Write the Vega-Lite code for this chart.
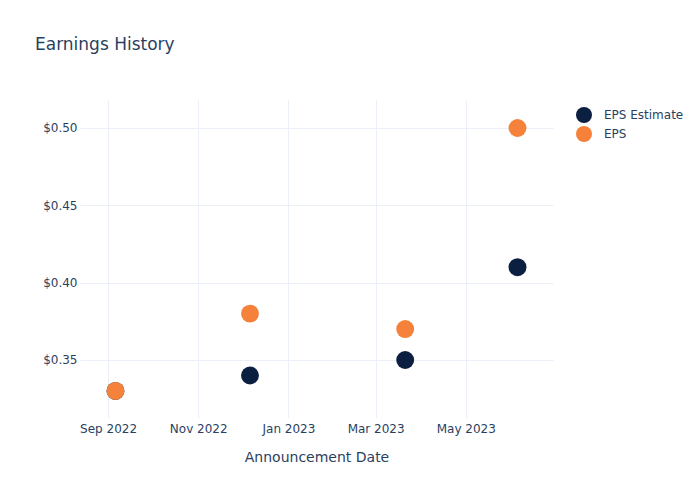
{
  "$schema": "https://vega.github.io/schema/vega-lite/v6.json",
  "width": 473,
  "height": 318,
  "autosize": "none",
  "padding": {"left": 80, "top": 100, "right": 147, "bottom": 82},
  "background": "white",
  "title": {"text": "Earnings History", "anchor": "start", "frame": "group", "dx": -45, "offset": 46, "fontSize": 17, "font": "DejaVu Sans", "fontWeight": "normal", "color": "#2a3f5f"},
  "data": {"values": [
    {"date": "2022-09-06", "series": "EPS Estimate", "value": 0.33},
    {"date": "2022-12-06", "series": "EPS Estimate", "value": 0.34},
    {"date": "2023-03-21", "series": "EPS Estimate", "value": 0.35},
    {"date": "2023-06-05", "series": "EPS Estimate", "value": 0.41},
    {"date": "2022-09-06", "series": "EPS", "value": 0.33},
    {"date": "2022-12-06", "series": "EPS", "value": 0.38},
    {"date": "2023-03-21", "series": "EPS", "value": 0.37},
    {"date": "2023-06-05", "series": "EPS", "value": 0.50}
  ]},
  "mark": {"type": "point", "shape": "circle", "filled": true, "opacity": 1, "size": 320, "strokeWidth": 0},
  "encoding": {
    "x": {
      "field": "date", "type": "temporal",
      "scale": {"type": "utc", "domain": [{"year": 2022, "month": 8, "date": 13, "utc": true}, {"year": 2023, "month": 6, "date": 29, "utc": true}], "nice": false},
      "axis": {
        "title": "Announcement Date",
        "values": [
          {"year": 2022, "month": 9, "date": 1, "utc": true},
          {"year": 2022, "month": 11, "date": 1, "utc": true},
          {"year": 2023, "month": 1, "date": 1, "utc": true},
          {"year": 2023, "month": 3, "date": 1, "utc": true},
          {"year": 2023, "month": 5, "date": 1, "utc": true}
        ],
        "format": "%b %Y",
        "labelPadding": 5,
        "titlePadding": 16
      }
    },
    "y": {
      "field": "value", "type": "quantitative",
      "scale": {"domain": [0.3125, 0.5181], "nice": false, "zero": false},
      "axis": {"title": null, "values": [0.35, 0.4, 0.45, 0.5], "format": "$.2f", "labelPadding": 3}
    },
    "color": {
      "field": "series", "type": "nominal",
      "scale": {"domain": ["EPS Estimate", "EPS"], "range": ["#0b1f40", "#f5813a"]},
      "legend": {"title": null, "orient": "none", "legendX": 496, "legendY": 7, "padding": 0, "symbolSize": 256, "symbolType": "circle", "symbolStrokeWidth": 0, "symbolOpacity": 1, "rowPadding": 3, "labelOffset": 12, "labelFontSize": 12, "labelFont": "DejaVu Sans", "labelColor": "#2a3f5f"}
    },
    "order": {"field": "series", "sort": "descending"}
  },
  "config": {
    "view": {"stroke": null},
    "axis": {
      "domain": false, "ticks": false, "grid": true, "gridColor": "#EBF0F8", "gridWidth": 1,
      "labelFont": "DejaVu Sans", "labelFontSize": 12, "labelColor": "#2a3f5f",
      "titleFont": "DejaVu Sans", "titleFontSize": 14, "titleFontWeight": "normal", "titleColor": "#2a3f5f"
    }
  }
}
